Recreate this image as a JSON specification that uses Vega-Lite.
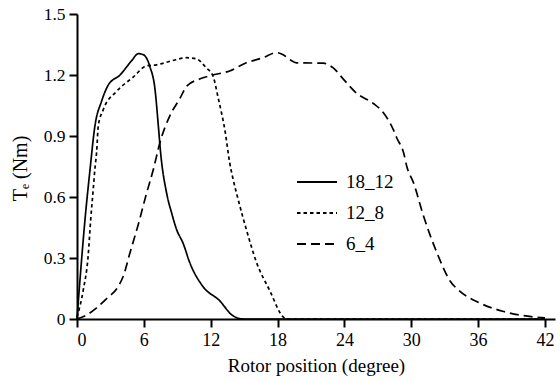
{
  "$schema": "https://vega.github.io/schema/vega-lite/v6.json",
  "width": 478,
  "height": 305,
  "autosize": {"type": "none"},
  "padding": {"left": 77, "top": 14, "right": 5, "bottom": 62},
  "background": "white",
  "config": {
    "view": {"stroke": null},
    "font": "Liberation Serif",
    "axis": {
      "grid": false,
      "domainColor": "black",
      "domainWidth": 2,
      "tickColor": "black",
      "tickWidth": 2,
      "tickSize": 8,
      "labelFont": "Liberation Serif",
      "labelFontSize": 17.5,
      "labelColor": "black",
      "labelPadding": 4,
      "titleFont": "Liberation Serif",
      "titleFontSize": 19,
      "titleFontWeight": "normal",
      "titleColor": "black"
    },
    "legend": {
      "labelFont": "Liberation Serif",
      "labelFontSize": 19,
      "labelColor": "black"
    }
  },
  "data": {
    "values": [
      {"s": "18_12", "x": 0, "y": 0},
      {"s": "18_12", "x": 0.35, "y": 0.25},
      {"s": "18_12", "x": 0.72, "y": 0.49},
      {"s": "18_12", "x": 1.17, "y": 0.735},
      {"s": "18_12", "x": 1.61, "y": 0.95},
      {"s": "18_12", "x": 2.2, "y": 1.07},
      {"s": "18_12", "x": 2.8, "y": 1.15},
      {"s": "18_12", "x": 3.86, "y": 1.2},
      {"s": "18_12", "x": 4.9, "y": 1.27},
      {"s": "18_12", "x": 5.5, "y": 1.305},
      {"s": "18_12", "x": 5.95, "y": 1.3},
      {"s": "18_12", "x": 6.55, "y": 1.24},
      {"s": "18_12", "x": 7.0, "y": 1.13},
      {"s": "18_12", "x": 7.3, "y": 0.95},
      {"s": "18_12", "x": 7.5, "y": 0.82},
      {"s": "18_12", "x": 8.04, "y": 0.62},
      {"s": "18_12", "x": 8.5, "y": 0.52},
      {"s": "18_12", "x": 8.94, "y": 0.44},
      {"s": "18_12", "x": 9.54, "y": 0.37},
      {"s": "18_12", "x": 10.1, "y": 0.28},
      {"s": "18_12", "x": 11.3, "y": 0.16},
      {"s": "18_12", "x": 12.8, "y": 0.09},
      {"s": "18_12", "x": 13.9, "y": 0.02},
      {"s": "18_12", "x": 14.5, "y": 0.003},
      {"s": "18_12", "x": 15, "y": 0},
      {"s": "18_12", "x": 42, "y": 0},
      {"s": "12_8", "x": 0, "y": 0.01},
      {"s": "12_8", "x": 0.57, "y": 0.145},
      {"s": "12_8", "x": 1.0, "y": 0.31},
      {"s": "12_8", "x": 1.23, "y": 0.49},
      {"s": "12_8", "x": 1.46, "y": 0.64},
      {"s": "12_8", "x": 1.6, "y": 0.735},
      {"s": "12_8", "x": 1.76, "y": 0.82},
      {"s": "12_8", "x": 1.91, "y": 0.95},
      {"s": "12_8", "x": 2.36, "y": 1.03},
      {"s": "12_8", "x": 3.56, "y": 1.12},
      {"s": "12_8", "x": 5.05, "y": 1.19},
      {"s": "12_8", "x": 6.25, "y": 1.245},
      {"s": "12_8", "x": 7.15, "y": 1.25},
      {"s": "12_8", "x": 8.5, "y": 1.27},
      {"s": "12_8", "x": 9.84, "y": 1.285},
      {"s": "12_8", "x": 10.7, "y": 1.28},
      {"s": "12_8", "x": 11.6, "y": 1.235},
      {"s": "12_8", "x": 12.2, "y": 1.195},
      {"s": "12_8", "x": 12.7, "y": 1.08},
      {"s": "12_8", "x": 13.3, "y": 0.92},
      {"s": "12_8", "x": 13.7, "y": 0.77},
      {"s": "12_8", "x": 14.0, "y": 0.69},
      {"s": "12_8", "x": 14.5, "y": 0.58},
      {"s": "12_8", "x": 15.2, "y": 0.44},
      {"s": "12_8", "x": 16.1, "y": 0.28},
      {"s": "12_8", "x": 17.3, "y": 0.14},
      {"s": "12_8", "x": 18.5, "y": 0.01},
      {"s": "12_8", "x": 18.8, "y": 0},
      {"s": "12_8", "x": 42, "y": 0},
      {"s": "6_4", "x": 0, "y": 0},
      {"s": "6_4", "x": 0.87, "y": 0.02},
      {"s": "6_4", "x": 1.76, "y": 0.055},
      {"s": "6_4", "x": 2.66, "y": 0.1},
      {"s": "6_4", "x": 3.7, "y": 0.16},
      {"s": "6_4", "x": 4.15, "y": 0.21},
      {"s": "6_4", "x": 4.75, "y": 0.325},
      {"s": "6_4", "x": 5.5, "y": 0.465},
      {"s": "6_4", "x": 6.25, "y": 0.62},
      {"s": "6_4", "x": 6.85, "y": 0.735},
      {"s": "6_4", "x": 7.44, "y": 0.867},
      {"s": "6_4", "x": 8.34, "y": 1.0},
      {"s": "6_4", "x": 9.24, "y": 1.085},
      {"s": "6_4", "x": 9.84, "y": 1.145},
      {"s": "6_4", "x": 11.0, "y": 1.18},
      {"s": "6_4", "x": 12.2, "y": 1.2},
      {"s": "6_4", "x": 13.7, "y": 1.22},
      {"s": "6_4", "x": 15.2, "y": 1.26},
      {"s": "6_4", "x": 16.7, "y": 1.285},
      {"s": "6_4", "x": 17.9, "y": 1.31},
      {"s": "6_4", "x": 18.5, "y": 1.3},
      {"s": "6_4", "x": 19.1, "y": 1.276},
      {"s": "6_4", "x": 19.7, "y": 1.26},
      {"s": "6_4", "x": 22.1, "y": 1.258},
      {"s": "6_4", "x": 23.0, "y": 1.235},
      {"s": "6_4", "x": 23.9, "y": 1.18},
      {"s": "6_4", "x": 25.1, "y": 1.11},
      {"s": "6_4", "x": 26.6, "y": 1.06},
      {"s": "6_4", "x": 27.5, "y": 1.014},
      {"s": "6_4", "x": 28.4, "y": 0.93},
      {"s": "6_4", "x": 28.7, "y": 0.89},
      {"s": "6_4", "x": 29.3, "y": 0.82},
      {"s": "6_4", "x": 29.6, "y": 0.75},
      {"s": "6_4", "x": 30.2, "y": 0.67},
      {"s": "6_4", "x": 31.1, "y": 0.506},
      {"s": "6_4", "x": 32.3, "y": 0.326},
      {"s": "6_4", "x": 33.5, "y": 0.186},
      {"s": "6_4", "x": 34.35, "y": 0.137},
      {"s": "6_4", "x": 36.1, "y": 0.08},
      {"s": "6_4", "x": 38.2, "y": 0.038},
      {"s": "6_4", "x": 40.0, "y": 0.017},
      {"s": "6_4", "x": 42, "y": 0.006}
    ]
  },
  "mark": {"type": "line", "color": "black", "strokeWidth": 1.7, "interpolate": "monotone"},
  "encoding": {
    "x": {
      "field": "x",
      "type": "quantitative",
      "scale": {"domain": [0, 42.9], "nice": false},
      "axis": {"values": [0, 6, 12, 18, 24, 30, 36, 42], "labelFontSize": 18, "title": "Rotor position (degree)", "titlePadding": 7}
    },
    "y": {
      "field": "y",
      "type": "quantitative",
      "scale": {"domain": [0, 1.5], "nice": false},
      "axis": {
        "values": [0, 0.3, 0.6, 0.9, 1.2, 1.5],
        "labelExpr": "datum.value == 0 ? '0' : format(datum.value, '.1f')",
        "title": "Tₑ (Nm)",
        "titleFontSize": 20,
        "titleX": -57,
        "titleY": 154,
        "titleAlign": "center",
        "titleBaseline": "middle",
        "titleAngle": -90
      }
    },
    "strokeDash": {
      "field": "s",
      "type": "nominal",
      "scale": {"domain": ["18_12", "12_8", "6_4"], "range": [[1, 0], [3.5, 3], [9, 5]]},
      "legend": {
        "title": null,
        "orient": "none",
        "legendX": 219,
        "legendY": 147,
        "symbolType": "stroke",
        "symbolSize": 1600,
        "symbolStrokeWidth": 1.8,
        "symbolStrokeColor": "black",
        "labelOffset": 8,
        "rowPadding": -1
      }
    },
    "detail": {"field": "s"}
  }
}
